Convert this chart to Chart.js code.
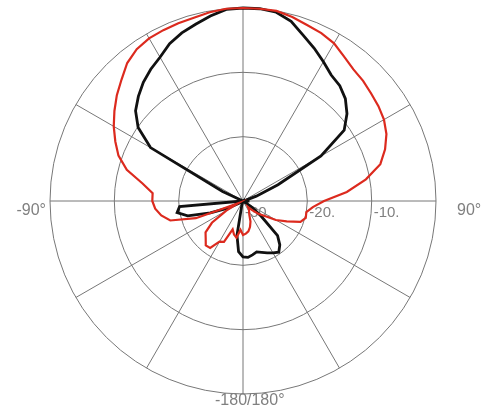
<!DOCTYPE html>
<html>
<head>
<meta charset="utf-8">
<script src="https://cdn.jsdelivr.net/npm/chart.js@4.4.1/dist/chart.umd.min.js"></script>
<style>
  html, body { margin: 0; padding: 0; background: #ffffff; }
  #wrap { position: relative; width: 486px; height: 416px; }
</style>
</head>
<body>
<div id="wrap"><canvas id="polar"></canvas></div>
<script>
// azimuth in degrees, clockwise from top
const angles = [
  0, 5, 10, 15, 20, 25, 30, 35, 40, 45, 50, 55,
  60, 65, 70, 75, 80, 85, 90, 95, 100, 105, 110, 115,
  120, 125, 130, 135, 140, 145, 150, 155, 160, 165, 170, 175,
  180, 185, 190, 195, 200, 205, 210, 215, 220, 225, 230, 235,
  240, 245, 250, 255, 260, 265, 270, 275, 280, 285, 290, 295,
  300, 305, 310, 315, 320, 325, 330, 335, 340, 345, 350, 355
];

// red trace (dB)
const redDb = [
  0, 0, 0, -0.4, -0.9, -1.2, -1.7, -2.6, -3.3, -3.6, -4.0, -4.3,
  -4.7, -5.4, -6.5, -7.9, -10.6, -13.8, -17.4, -19.1, -20.0, -19.9, -20.5, -22.5,
  -24.1, -26.0, -27.0, -28.0, -28.8, -28.4, -28.1, -27.7, -26.6, -25.8, -25.2, -24.9,
  -24.7, -25.5, -24.2, -24.6, -25.3, -23.0, -22.7, -21.1, -21.0, -21.8, -22.4, -24.1,
  -27.0, -29.2, -22.2, -18.3, -17.1, -16.3, -15.9, -15.9, -14.1, -11.3, -9.4, -8.1,
  -6.8, -5.6, -4.4, -3.3, -2.0, -1.2, -0.8, -0.7, -0.6, -0.5, -0.2, 0
];

// black trace (dB)
const blackDb = [
  0, 0, -0.2, -1.1, -2.6, -3.8, -5.0, -6.1, -6.6, -7.5, -8.9, -10.8,
  -16.0, -24.0, -27.8, -29.5, -30, -29.5, -29.0, -30, -30, -30, -30, -30,
  -30, -28.3, -26.3, -22.4, -21.1, -20.3, -20.7, -21.1, -21.5, -21.8, -21.5, -21.2,
  -21.3, -22.1, -24.6, -29.2, -30, -30, -30, -30, -30, -30, -30, -30,
  -29.2, -27.4, -24.6, -21.1, -19.6, -20.1, -30, -30, -30, -30, -30, -26.5,
  -13.4, -10.1, -8.2, -7.0, -5.9, -5.0, -4.2, -3.0, -2.2, -1.55, -0.8, -0.1
];

const ringTicks = [-30, -20, -10];
const ringLabels = ["-30.", "-20.", "-10."];

const polarLabels = {
  id: "polarLabels",
  beforeDatasetsDraw(chart) {
    const scale = chart.scales.r;
    const ctx = chart.ctx;
    const R = scale.drawingArea;
    ctx.save();
    ctx.fillStyle = "#808080";
    ctx.textBaseline = "top";

    // ring values along the 90 deg axis
    ctx.font = "15px 'Liberation Sans', Arial, sans-serif";
    ctx.textAlign = "left";
    ringTicks.forEach((v, i) => {
      const p = scale.getPointPosition(18, scale.getDistanceFromCenterForValue(v));
      ctx.fillText(ringLabels[i], p.x + 2, p.y + 4);
    });

    // azimuth labels
    ctx.font = "16px 'Liberation Sans', Arial, sans-serif";
    let p = scale.getPointPosition(54, R);
    ctx.textAlign = "right";
    ctx.fillText("-90°", p.x - 4, p.y + 2);
    p = scale.getPointPosition(18, R);
    ctx.textAlign = "left";
    ctx.fillText("90°", p.x + 21, p.y + 2);
    p = scale.getPointPosition(36, R);
    ctx.fillText("-180/180°", p.x - 28, p.y - 1);
    ctx.restore();
  }
};

const ctx = document.getElementById("polar").getContext("2d");
const polarChart = new Chart(ctx, {
  type: "radar",
  data: {
    labels: angles,
    datasets: [
      {
        label: "red",
        data: redDb,
        borderColor: "#dc2a1e",
        borderWidth: 2.2,
        pointRadius: 0,
        fill: false,
        tension: 0,
      },
      {
        label: "black",
        data: blackDb,
        borderColor: "#111111",
        borderWidth: 2.8,
        pointRadius: 0,
        fill: false,
        tension: 0,
      },
    ],
  },
  options: {
    responsive: true,
    maintainAspectRatio: false,
    animation: false,
    layout: {
      padding: { left: 50, right: 50, top: 8, bottom: 22 },
    },
    scales: {
      r: {
        min: -30,
        max: 0,
        ticks: { stepSize: 10, display: false },
        pointLabels: { display: false },
        grid: { circular: true, color: "#777777", lineWidth: 1 },
        angleLines: {
          color: "#777777",
          lineWidth: (c) => (c.index % 6 === 0 ? 1 : 0),
        },
      },
    },
    plugins: {
      legend: { display: false },
      tooltip: { enabled: false },
    },
  },
  plugins: [polarLabels],
});
</script>
</body>
</html>
